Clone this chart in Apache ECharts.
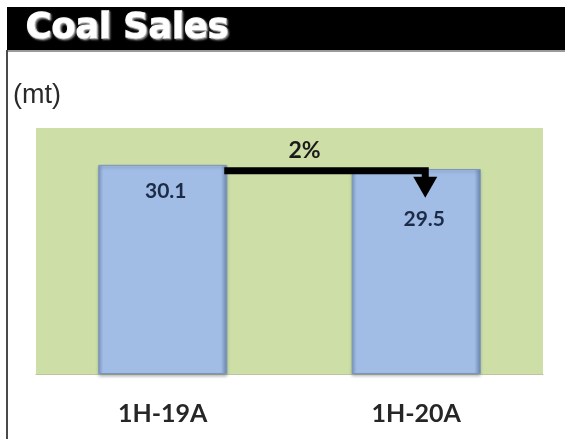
<!DOCTYPE html>
<html>
<head>
<meta charset="utf-8">
<style>
  html, body { margin: 0; padding: 0; background: #ffffff; }
  #chart { width: 565px; height: 439px; }
</style>
<script src="https://cdn.jsdelivr.net/npm/echarts@6/dist/echarts.min.js"></script>
</head>
<body>
<div id="chart"></div>
<script>
// Half-year coal sales, million tonnes
const periods = ['1H-19A', '1H-20A'];
const sales = [30.1, 29.5];
const titleText = 'Coal Sales';
const unitText = '(mt)';

const BAR_W = 129;
const barFill = {
  type: 'linear', x: 0, y: 0, x2: 1, y2: 0,
  colorStops: [
    { offset: 0, color: '#7f9bc6' },
    { offset: 0.04, color: '#a2bde5' },
    { offset: 0.95, color: '#a2bde5' },
    { offset: 1, color: '#6c87b0' }
  ]
};
// label nudges so the arrow does not cover the second value
const labelOffsets = [[3, 11], [8, 35]];

const chart = echarts.init(document.getElementById('chart'), null, { renderer: 'canvas' });

chart.setOption({
  animation: false,
  backgroundColor: '#ffffff',
  grid: {
    left: 36, right: 22, top: 128, bottom: 65,
    show: true, backgroundColor: '#cddfa6', borderWidth: 0
  },
  xAxis: {
    type: 'category',
    data: periods,
    axisLine: { show: true, lineStyle: { color: '#b9c79a', width: 1 } },
    axisTick: { show: false },
    axisLabel: {
      margin: 27,
      fontFamily: 'Lato, "Liberation Sans", sans-serif',
      fontWeight: 'bold',
      fontSize: 25,
      lineHeight: 25,
      color: '#262626'
    }
  },
  yAxis: {
    type: 'value',
    min: 0,
    max: 35.4,
    show: false,
    splitLine: { show: false }
  },
  series: [{
    type: 'bar',
    barWidth: BAR_W,
    data: sales.map((v, i) => ({
      value: v,
      label: { offset: labelOffsets[i] }
    })),
    itemStyle: {
      color: barFill,
      borderColor: '#7d95bb',
      borderWidth: 1,
      shadowColor: 'rgba(60,70,90,0.35)',
      shadowBlur: 3,
      shadowOffsetY: 2
    },
    label: {
      show: true,
      position: 'insideTop',
      distance: 5,
      fontFamily: 'Lato, "Liberation Sans", sans-serif',
      fontWeight: 'bold',
      fontSize: 21,
      color: '#1c2b48',
      formatter: p => p.value.toFixed(1)
    }
  }]
});

// Header band, unit caption and the change arrow placed from the axis scales
const p1 = chart.convertToPixel({ xAxisIndex: 0, yAxisIndex: 0 }, [0, sales[0]]);
const p2 = chart.convertToPixel({ xAxisIndex: 0, yAxisIndex: 0 }, [1, sales[1]]);
const lineY = p1[1] + 6;
const startX = p1[0] + BAR_W / 2 - 3;
const endX = p2[0] + 9;
const change = Math.round(Math.abs(sales[1] - sales[0]) / sales[0] * 100) + '%';

chart.setOption({
  graphic: [
    { type: 'rect', z: 100, shape: { x: 7, y: 7, width: 558, height: 43 }, style: { fill: '#000000' } },
    { type: 'rect', z: 100, shape: { x: 7, y: 50, width: 558, height: 2 }, style: { fill: '#9a9a9a' } },
    { type: 'rect', z: 100, shape: { x: 6, y: 50, width: 2, height: 389 }, style: { fill: '#4a4a4a' } },
    {
      type: 'text', z: 101, x: 26, y: 29,
      style: {
        text: titleText,
        fill: '#ffffff',
        font: 'bold 35px "DejaVu Sans", sans-serif',
        textVerticalAlign: 'middle',
        stroke: '#ffffff',
        lineWidth: 1.6,
        textShadowColor: 'rgba(150,150,150,0.9)',
        textShadowBlur: 2,
        textShadowOffsetX: 1,
        textShadowOffsetY: 1
      }
    },
    {
      type: 'text', z: 100, x: 13, y: 96,
      style: {
        text: unitText,
        fill: '#2a2a2a',
        font: '27px "Liberation Sans", Arial, sans-serif',
        textVerticalAlign: 'middle'
      }
    },
    {
      type: 'polyline', z: 100,
      shape: { points: [[startX, lineY], [endX, lineY], [endX, lineY + 10]] },
      style: { stroke: '#000000', lineWidth: 7, fill: null, lineJoin: 'miter' }
    },
    {
      type: 'polygon', z: 100,
      shape: { points: [[endX - 12, lineY + 6], [endX + 12, lineY + 6], [endX, lineY + 27]] },
      style: { fill: '#000000' }
    },
    {
      type: 'text', z: 100, x: (p1[0] + p2[0]) / 2 + 15, y: 151,
      style: {
        text: change,
        fill: '#1a1a1a',
        font: 'bold 23px Lato, "Liberation Sans", sans-serif',
        textAlign: 'center',
        textVerticalAlign: 'middle'
      }
    }
  ]
});
</script>
</body>
</html>
